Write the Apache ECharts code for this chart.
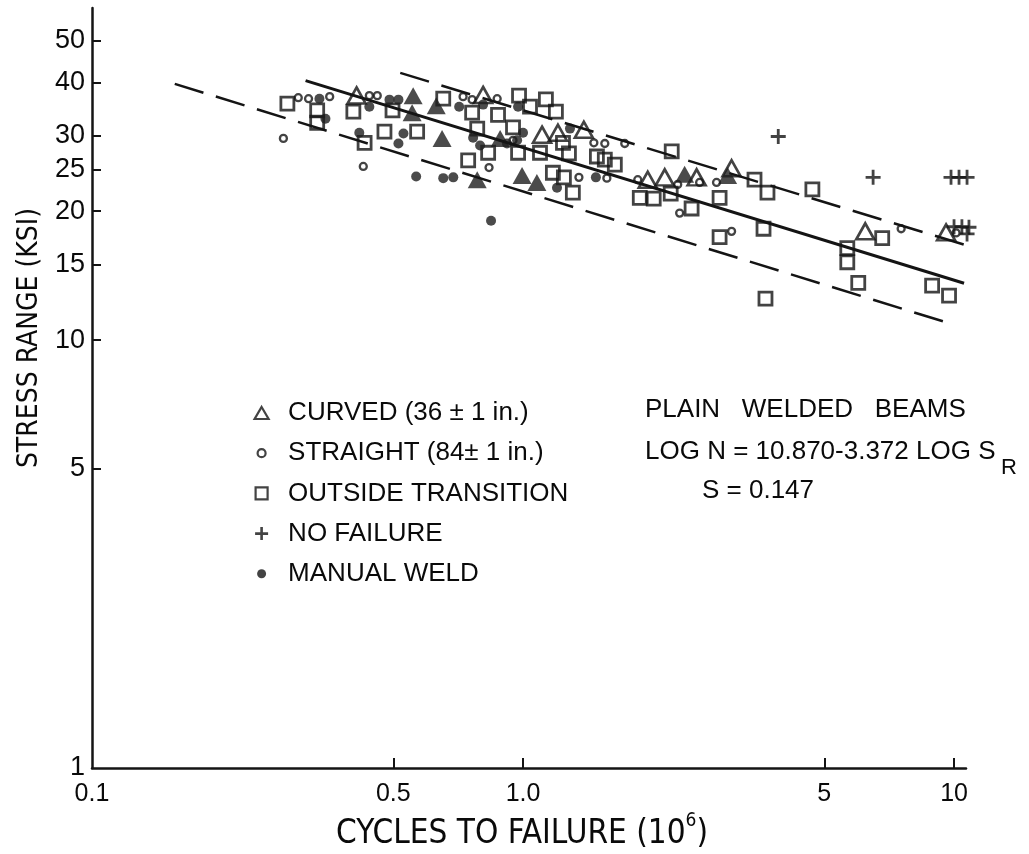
<!DOCTYPE html>
<html><head><meta charset="utf-8">
<script src="https://cdn.jsdelivr.net/npm/echarts@6/dist/echarts.min.js"></script>
<style>html,body{margin:0;padding:0;background:#fff}#c{width:1029px;height:854px}</style>
</head><body><div id="c"></div>
<script>
// ---- tick labels ----
const xTickValues = [0.5, 1, 5, 10];
const xLabelValues = [0.1, 0.5, 1, 5, 10];
const xLabelText = ['0.1', '0.5', '1.0', '5', '10'];
const yTickValues = [5, 10, 15, 20, 25, 30, 40, 50];
const yLabelValues = [1, 5, 10, 15, 20, 25, 30, 40, 50];
const yLabelText = ['1', '5', '10', '15', '20', '25', '30', '40', '50'];

// ---- data: [cycles (10^6), stress range (ksi)] ----
const curved = [[0.411,37.3],[0.808,37.4],[1.107,30.2],[1.205,30.5],[1.384,31.0],[1.947,23.7],[2.132,24.0],[2.528,24.0],[3.047,25.2],[6.223,17.95],[9.583,17.85]];
const straight = [[0.278,29.6],[0.301,36.85],[0.318,36.65],[0.356,37.05],[0.440,37.25],[0.459,37.25],[0.426,25.45],[0.726,37.05],[0.762,36.46],[0.871,36.65],[0.834,25.3],[0.948,29.3],[1.348,24.0],[1.460,28.9],[1.548,28.8],[1.565,23.9],[1.722,28.8],[1.846,23.7],[2.285,23.1],[2.309,19.8],[2.569,23.35],[2.812,23.35],[3.047,17.95],[7.539,18.2],[10.11,17.8]];
const transition = [[0.284,35.7],[0.333,34.4],[0.333,32.2],[0.404,34.2],[0.498,34.4],[0.653,36.65],[0.429,28.9],[0.477,30.7],[0.568,30.7],[0.762,34.0],[0.875,33.6],[0.979,37.25],[1.038,35.1],[1.130,36.5],[1.192,34.2],[0.783,31.2],[0.948,31.4],[0.830,27.4],[0.974,27.4],[1.095,27.4],[1.238,28.9],[1.278,27.3],[1.484,26.85],[1.548,26.4],[1.633,25.7],[0.746,26.3],[1.173,24.6],[1.244,24.0],[1.305,22.1],[1.866,21.5],[2.010,21.4],[2.213,27.6],[2.201,22.0],[2.461,20.3],[2.858,21.5],[3.444,23.7],[3.691,22.1],[3.614,18.2],[2.858,17.4],[4.692,22.5],[5.654,16.4],[5.654,15.2],[6.813,17.3],[5.995,13.6],[8.895,13.4],[9.737,12.7],[3.652,12.5]];
const noFailure = [[3.91,29.9],[6.49,24.0],[9.84,24.0],[10.27,24.0],[10.72,24.0],[10.0,18.4],[10.43,18.4],[10.83,18.35],[10.72,17.7]];
const manualStraight = [[0.337,36.65],[0.348,32.9],[0.440,35.1],[0.490,36.46],[0.514,36.46],[0.417,30.5],[0.528,30.4],[0.514,28.8],[0.565,24.1],[0.653,23.9],[0.689,24.0],[0.711,35.1],[0.808,35.5],[0.974,35.1],[0.766,29.7],[0.795,28.5],[0.918,28.8],[0.969,29.3],[1.0,30.5],[1.285,31.2],[1.199,22.7],[1.476,24.0],[0.843,19.0]];
const manualCurved = [[0.556,37.25],[0.553,34.0],[0.629,35.3],[0.649,29.6],[0.783,23.7],[0.885,29.6],[0.995,24.25],[1.077,23.35],[2.371,24.4],[2.983,24.25]];

// ---- fitted line and limits (end points) ----
const meanLine = [[0.313,40.4],[10.55,13.58]];
const upperLine = [[0.519,42.1],[11.24,16.39]];
const lowerLine = [[0.1556,39.7],[9.88,10.9]];

const seriesNames = ['CURVED (36 ± 1 in.)', 'STRAIGHT (84± 1 in.)', 'OUTSIDE TRANSITION', 'NO FAILURE', 'MANUAL WELD'];

const INK = '#141414';
const TXT = '#0a0a0a';
const FONT = '"Liberation Sans", Arial, sans-serif';
const NARROW = '"Liberation Sans Narrow", "DejaVu Sans Condensed", "Liberation Sans", sans-serif';
const PLUS = 'path://M6.5,0H9.5V6.5H16V9.5H9.5V16H6.5V9.5H0V6.5H6.5Z';

function pick(vals, texts, v) {
  for (let i = 0; i < vals.length; i++) {
    if (Math.abs(Math.log10(vals[i]) - Math.log10(v)) < 1e-6) return texts[i];
  }
  return '';
}

const chart = echarts.init(document.getElementById('c'), null, {renderer: 'canvas'});
const hollow = (bw) => ({color: 'rgba(0,0,0,0)', borderColor: INK, borderWidth: bw});
const legHollow = {color: 'rgba(0,0,0,0)', borderColor: INK, borderWidth: 2.2};
const legFill = {color: INK, borderColor: INK, borderWidth: 0};

const option = {
  animation: false,
  backgroundColor: '#fff',
  grid: {left: 92, right: 63, top: 8, bottom: 86},
  xAxis: {
    type: 'log', logBase: 10, min: 0.1, max: 10.66,
    axisLine: {show: true, lineStyle: {color: INK, width: 2.5}},
    axisTick: {show: true, inside: true, length: 10, lineStyle: {color: INK, width: 2}, customValues: xTickValues},
    axisLabel: {show: true, customValues: xLabelValues, margin: 14, fontSize: 25, fontFamily: FONT, color: TXT,
      formatter: v => pick(xLabelValues, xLabelText, v)},
    splitLine: {show: false}, minorTick: {show: false}
  },
  yAxis: {
    type: 'log', logBase: 10, min: 1, max: 59.7,
    axisLine: {show: true, lineStyle: {color: INK, width: 2.5}},
    axisTick: {show: true, inside: true, length: 9, lineStyle: {color: INK, width: 2}, customValues: yTickValues},
    axisLabel: {show: true, customValues: yLabelValues, margin: 7, fontSize: 27, fontFamily: FONT, color: TXT,
      formatter: v => pick(yLabelValues, yLabelText, v)},
    splitLine: {show: false}, minorTick: {show: false}
  },
  legend: {
    orient: 'vertical', left: 248, top: 393,
    data: [
      {name: seriesNames[0], icon: 'path://M0,0M15,15M7.5,1.5L14.5,13.5H0.5Z', itemStyle: legHollow},
      {name: seriesNames[1], icon: 'path://M0,0M15,15M11.5,7.5A4,4 0 1 1 3.5,7.5A4,4 0 1 1 11.5,7.5Z', itemStyle: legHollow},
      {name: seriesNames[2], icon: 'path://M0,0M15,15M1.5,1.5H13.5V13.5H1.5Z', itemStyle: legHollow},
      {name: seriesNames[3], icon: 'path://M0,0M15,15M6.2,1H8.8V6.2H14V8.8H8.8V14H6.2V8.8H1V6.2H6.2Z', itemStyle: legFill},
      {name: seriesNames[4], icon: 'path://M0,0M15,15M12,7.5A4.5,4.5 0 1 1 3,7.5A4.5,4.5 0 1 1 12,7.5Z', itemStyle: legFill}
    ],
    itemWidth: 15, itemHeight: 15, itemGap: 10.2,
    textStyle: {fontSize: 26, lineHeight: 30, fontFamily: FONT, color: TXT, padding: [0, 0, 0, 14]},
    selectedMode: false
  },
  graphic: [
    {type: 'text', x: 645, y: 410, style: {text: 'PLAIN   WELDED   BEAMS', fontSize: 26, fontFamily: FONT, fill: TXT, verticalAlign: 'middle'}},
    {type: 'text', x: 645, y: 452, style: {text: 'LOG N = 10.870-3.372 LOG S', fontSize: 26, fontFamily: FONT, fill: TXT, verticalAlign: 'middle'}},
    {type: 'text', x: 1001, y: 468, style: {text: 'R', fontSize: 22, fontFamily: FONT, fill: TXT, verticalAlign: 'middle'}},
    {type: 'text', x: 702, y: 491, style: {text: 'S = 0.147', fontSize: 26, fontFamily: FONT, fill: TXT, verticalAlign: 'middle'}},
    {type: 'text', x: 30, y: 338, rotation: Math.PI / 2,
      style: {text: 'STRESS RANGE (KSI)', fontSize: 28, fontFamily: NARROW, fill: TXT, align: 'center', verticalAlign: 'middle'}},
    {type: 'text', x: 522, y: 834,
      style: {text: '{t|CYCLES TO FAILURE (10}{s|6}{t|)}', align: 'center', verticalAlign: 'middle',
        rich: {t: {fontSize: 33, lineHeight: 44, fontFamily: NARROW, fill: TXT, color: TXT},
               s: {fontSize: 19, lineHeight: 14, verticalAlign: 'top', fontFamily: NARROW, fill: TXT, color: TXT}}}}
  ],
  series: [
    {type: 'line', data: lowerLine, symbol: 'none', clip: false, silent: true,
      lineStyle: {color: INK, width: 2.5, type: [30, 13]}},
    {type: 'line', data: upperLine, symbol: 'none', clip: false, silent: true,
      lineStyle: {color: INK, width: 2.5, type: [30, 13]}},
    {type: 'line', data: meanLine, symbol: 'none', clip: false, silent: true,
      lineStyle: {color: INK, width: 3}},
    {name: seriesNames[2], type: 'scatter', data: transition, symbol: 'rect', symbolSize: 13, clip: false, itemStyle: hollow(2.8)},
    {name: seriesNames[1], type: 'scatter', data: straight, symbol: 'circle', symbolSize: 7, clip: false, itemStyle: hollow(2.3)},
    {name: seriesNames[0], type: 'scatter', data: curved, symbol: 'triangle', symbolSize: [18, 16], clip: false, itemStyle: hollow(2.6)},
    {name: seriesNames[4], type: 'scatter', data: manualStraight, symbol: 'circle', symbolSize: 10, clip: false, itemStyle: {color: '#1e1e1e'}},
    {name: 'MANUAL WELD (CURVED)', type: 'scatter', data: manualCurved, symbol: 'triangle', symbolSize: [19, 17], clip: false, itemStyle: {color: '#1e1e1e'}},
    {name: seriesNames[3], type: 'scatter', data: noFailure, symbol: PLUS, symbolSize: 15, clip: false, itemStyle: {color: INK}}
  ]
};
chart.setOption(option);
</script>
</body></html>
